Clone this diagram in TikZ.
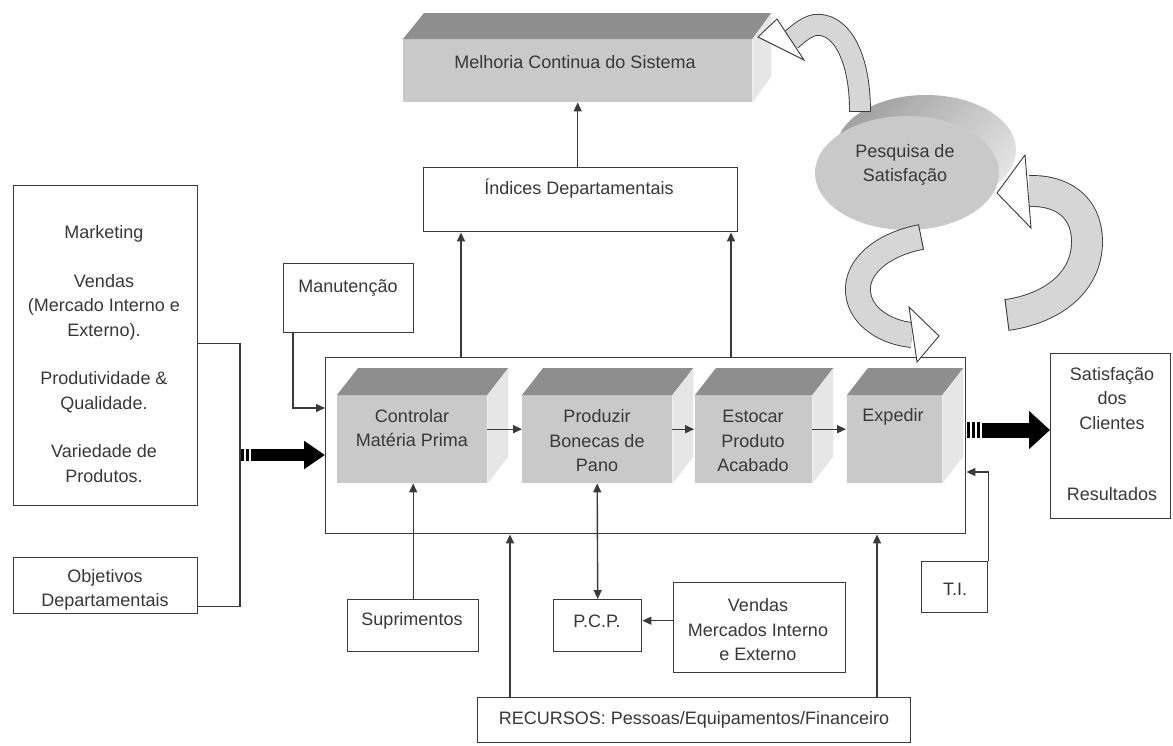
\documentclass[tikz,border=0pt]{standalone}
\usepackage{fontspec}
\setmainfont{Liberation Sans}
\usetikzlibrary{arrows.meta,calc,shapes.geometric}
\definecolor{txt}{HTML}{383838}
\definecolor{ln}{HTML}{3A3A3A}
\definecolor{topg}{HTML}{8E8E8E}
\definecolor{frontg}{HTML}{C9C9C9}
\definecolor{sideg}{HTML}{E6E6E6}
\definecolor{ribbon}{HTML}{D6D6D6}
\definecolor{discdark}{HTML}{A2A2A2}
\definecolor{disclight}{HTML}{E4E4E4}
\newcommand\procbox[3]{%
  \node[face, minimum width=#3, minimum height=88, anchor=north west] (#1) at (#2) {};
  \fill[topg] (#1.north west) -- ++(21,-27) -- ($(#1.north east)+(21,-27)$) -- (#1.north east) -- cycle;
  \fill[sideg] (#1.north east) -- ++(21,-27) -- ($(#1.south east)+(21,-27)$) -- (#1.south east) -- cycle;
}
\begin{document}
\begin{tikzpicture}[x=1pt,y=-1pt,
  every node/.style={font=\fontsize{18}{24.5}\selectfont, text=txt},
  box/.style={draw=ln, line width=1.4pt, fill=white, rectangle, inner sep=0pt, anchor=north west},
  lbl/.style={align=center, inner sep=0pt},
  face/.style={draw=none, inner sep=0pt, rectangle, fill=frontg},
  conn/.style={draw=ln, line width=1.4pt},
  arr/.style={conn, -{Triangle[length=9pt,width=8pt]}},
  arrb/.style={conn, {Triangle[length=9pt,width=8pt]}-{Triangle[length=9pt,width=8pt]}},
  ribbonarrow/.style={double=ribbon, double distance=#1, line width=0.9pt, draw=ln},
  headtip/.style={fill=white, draw=ln, line width=0.9pt, line join=miter},
  thick arrow/.style={draw=black, line width=#1},
]
\useasboundingbox (0,0) rectangle (1173,745);
\fill[white] (0,0) rectangle (1173,745);

% ---------- Melhoria (3D box) ----------
\node[face, minimum width=349, minimum height=63, anchor=north west] (mel) at (403,39) {};
\fill[topg] (mel.north west) -- ++(21,-26) -- ($(mel.north east)+(19,-26)$) -- (mel.north east) -- cycle;
\fill[sideg] (mel.north east) -- ++(19,-26) -- ($(mel.south east)+(19,-26)$) -- (mel.south east) -- cycle;
\node[lbl] (meltxt) at (575,62) {Melhoria Continua do Sistema};

% ---------- boxes ----------
\node[box, minimum width=314, minimum height=64] (ind) at (423,167) {};
\node[lbl] (indtxt) at (579,189) {Índices Departamentais};

\node[box, minimum width=130, minimum height=69] (man) at (283,263) {};
\node[lbl] (mantxt) at (348,288) {Manutenção};

\node[box, minimum width=184, minimum height=320] (mk) at (13,185) {};
\node[lbl] (mktxt) at (104,354) {Marketing\\[24pt]Vendas\\(Mercado Interno e\\Externo).\\[24pt]Produtividade \&\\Qualidade.\\[24pt]Variedade de\\Produtos.};

\node[box, minimum width=184, minimum height=56] (obj) at (13,557) {};
\node[lbl] (objtxt) at (105,590) {Objetivos\\Departamentais};

\node[box, minimum width=640, minimum height=176] (main) at (325,357) {};

\node[box, minimum width=120, minimum height=165] (sat) at (1050,353) {};
\node[lbl] (sattxt) at (1112,434) {Satisfação\\dos\\Clientes\\[47pt]Resultados};

\node[box, minimum width=131, minimum height=52] (sup) at (347,599) {};
\node[lbl] (suptxt) at (412,621) {Suprimentos};

\node[box, minimum width=88, minimum height=52] (pcp) at (553,599) {};
\node[lbl] (pcptxt) at (597,621) {P.C.P.};

\node[box, minimum width=172, minimum height=90] (vend) at (673,582) {};
\node[lbl] (vendtxt) at (758,630) {Vendas\\Mercados Interno\\e Externo};

\node[box, minimum width=433, minimum height=45] (rec) at (477,697) {};
\node[lbl] (rectxt) at (694,720) {RECURSOS: Pessoas/Equipamentos/Financeiro};

\node[box, minimum width=66, minimum height=51] (ti) at (921,561) {};
\node[lbl] (titxt) at (955,589) {T.I.};

% ---------- process boxes ----------
\procbox{b1}{337,395}{150}
\procbox{b2}{522,395}{150}
\procbox{b3}{695,395}{117}
\procbox{b4}{847,395}{95}
\node[lbl] (b1txt) at (412,428) {Controlar\\Matéria Prima};
\node[lbl] (b2txt) at (597,441) {Produzir\\Bonecas de\\Pano};
\node[lbl] (b3txt) at (753,441) {Estocar\\Produto\\Acabado};
\node[lbl] (b4txt) at (893,417) {Expedir};

\draw[arr] ([yshift=10pt]b1.east) -- ([yshift=10pt]b2.west);
\draw[arr] ([yshift=10pt]b2.east) -- ([yshift=10pt,xshift=-1pt]b3.west);
\draw[arr] ([yshift=10pt]b3.east) -- ([yshift=10pt,xshift=-1pt]b4.west);

% ---------- connectors ----------
\coordinate (x461) at (461,0);
\coordinate (x731) at (731,0);
\coordinate (x510) at (510,0);
\coordinate (x877) at (877,0);
\coordinate (y408) at (0,408);
\coordinate (y472) at (0,472);
\coordinate (y430) at (0,430);
\coordinate (jx) at (240,455);

\draw[arr] (main.north -| x461) -- (ind.south -| x461);
\draw[arr] (main.north -| x731) -- (ind.south -| x731);
\draw[arr] (ind.north -| mel.south) -- (mel.south);
\draw[arr] ([xshift=10pt]man.south west) |- (main.west |- y408);
\draw[arr] (sup.north) -- (sup.north |- b1.south);
\draw[arrb] (b2.south) -- (pcp.north);
\draw[arr] ([yshift=7pt]vend.west) -- ([yshift=7pt]vend.west -| pcp.east);
\draw[arr] (rec.north -| x510) -- (main.south -| x510);
\draw[arr] (rec.north -| x877) -- (main.south -| x877);
\draw[arr] (ti.north east) |- (main.east |- y472);
\draw[conn] ([yshift=2pt]mk.east) -| (jx) |- ([yshift=-21pt]obj.east);

% striped thick arrows
\fill[black] ($(jx)+(1,-6)$) rectangle ++(3,12);
\fill[black] ($(jx)+(6,-6)$) rectangle ++(3,12);
\draw[thick arrow=12pt, -{Triangle[length=21pt,width=27pt]}] ($(jx)+(11,0)$) -- (main.west |- jx);
\fill[black] ($(main.east |- y430)+(1,-8)$) rectangle ++(3,16);
\fill[black] ($(main.east |- y430)+(6,-8)$) rectangle ++(3,16);
\fill[black] ($(main.east |- y430)+(11,-8)$) rectangle ++(3,16);
\draw[thick arrow=15pt, -{Triangle[length=21pt,width=37pt]}] ($(main.east |- y430)+(16,0)$) -- (sat.west |- y430);

% ---------- Pesquisa de Satisfação ----------
\node[ellipse, shading=axis, top color=discdark, bottom color=disclight, shading angle=45, minimum width=180, minimum height=110, inner sep=0pt] (pesb) at (926,150) {};
\node[ellipse, fill=frontg, minimum width=184, minimum height=114, inner sep=0pt] (pes) at (907,173) {};
\node[lbl] (pestxt) at (905,165) {Pesquisa de\\Satisfação};

% ---------- curved block arrows ----------
% top arrow: to Melhoria
\draw[ribbonarrow=20pt] (860,111) .. controls (860,55) and (840,22) .. (815,25) .. controls (805,27) and (797,35) .. (791,40);
\draw[conn, line width=0.9pt] (849.1,111) -- (870.9,111);
\draw[headtip] (777,19) -- (758,37) -- (804,60) -- cycle;

% right arrow: back to Pesquisa
\draw[ribbonarrow=30pt] (1007,315) .. controls (1055,308) and (1088,280) .. (1087,240) .. controls (1086,205) and (1060,190) .. (1029,191);
\draw[conn, line width=0.9pt] (1005,299) -- (1009,331);
\draw[headtip] (1025,155) -- (997,193) -- (1031,228) -- cycle;

% lower arrow: to Expedir
\draw[ribbonarrow=24pt] (921,237) .. controls (880,245) and (856,268) .. (858,292) .. controls (860,318) and (888,333) .. (912,335);
\draw[conn, line width=0.9pt] (918.5,224.4) -- (923.5,249.6);
\draw[headtip] (909,307) -- (939,336) -- (917,362) -- cycle;
\end{tikzpicture}
\end{document}
